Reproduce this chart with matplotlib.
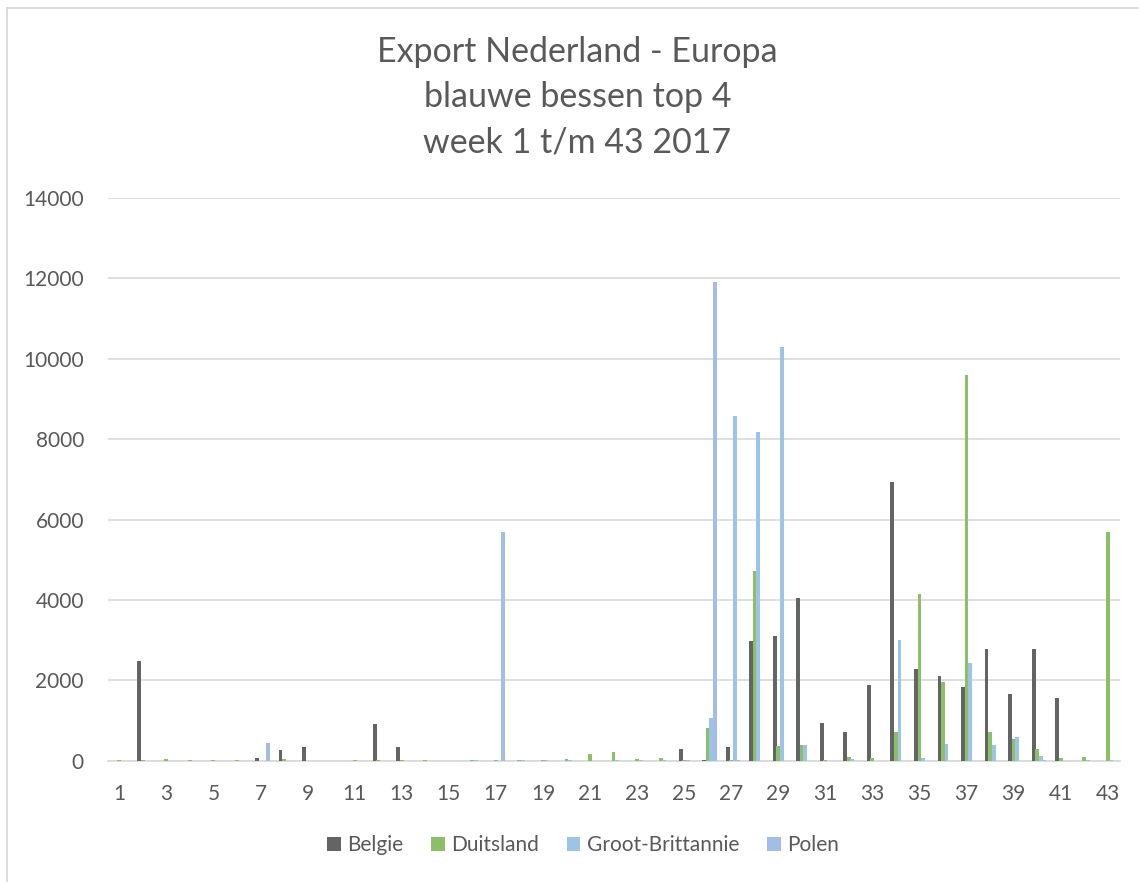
import matplotlib
matplotlib.use("Agg")
import matplotlib.pyplot as plt
from matplotlib.patches import Rectangle
import numpy as np

plt.rcParams["font.family"] = ["Lato", "DejaVu Sans"]

# Data: export per week (weken 1 t/m 43)
weken = list(range(1, 44))
belgie = [0, 2480, 0, 0, 0, 0, 70, 270, 330, 0,
          0, 910, 330, 0, 0, 0, 0, 0, 0, 0,
          0, 0, 0, 0, 290, 10, 340, 2975, 3110, 4060,
          940, 720, 1890, 6940, 2270, 2100, 1830, 2780, 1650, 2770,
          1560, 0, 0]
duitsland = [30, 10, 40, 30, 10, 30, 0, 40, 0, 0,
             15, 15, 15, 20, 0, 10, 30, 30, 10, 40,
             160, 210, 40, 60, 20, 820, 10, 4720, 370, 400,
             10, 100, 80, 720, 4160, 1950, 9600, 710, 530, 290,
             80, 100, 5690]
groot_brittannie = [0, 0, 0, 0, 0, 0, 0, 0, 0, 0,
                    0, 0, 0, 0, 0, 15, 0, 15, 15, 15,
                    0, 15, 15, 15, 15, 1060, 8580, 8180, 10300, 400,
                    0, 40, 0, 3000, 70, 420, 2440, 400, 600, 120,
                    0, 20, 20]
polen = [0, 0, 0, 0, 0, 0, 440, 0, 0, 0,
         0, 0, 0, 0, 0, 0, 5700, 0, 0, 0,
         0, 0, 0, 0, 0, 11900, 20, 0, 0, 0,
         0, 0, 0, 0, 0, 0, 0, 0, 0, 30,
         0, 0, 0]

series = [("Belgie", belgie, "#646464"),
          ("Duitsland", duitsland, "#8CC068"),
          ("Groot-Brittannie", groot_brittannie, "#9DC3E6"),
          ("Polen", polen, "#A4BDE6")]

tekst = "#595959"
grid = "#D9D9D9"

fig = plt.figure(figsize=(11.39, 8.82), dpi=100)
ax = fig.add_axes([0.0944, 0.1375, 0.8885, 0.638])

x = np.array(weken)
for i, (naam, waarden, kleur) in enumerate(series):
    ax.bar(x + (i - 1) * 0.15, waarden, width=0.165, color=kleur, label=naam, zorder=3)

ax.set_xlim(0.5, 43.5)
ax.set_ylim(0, 14000)
ax.set_yticks(range(0, 14001, 2000))
ax.set_xticks(weken[::2])
ax.tick_params(axis="both", length=0, labelsize=15, labelcolor=tekst)
ax.tick_params(axis="y", pad=17)
ax.tick_params(axis="x", pad=17)
ax.grid(axis="y", color=grid, linewidth=1.2, zorder=0)
for s in ["top", "right", "left"]:
    ax.spines[s].set_visible(False)
ax.spines["bottom"].set_color(grid)
ax.spines["bottom"].set_linewidth(1.2)

fig.text(0.507, 1 - 97 / 882, "Export Nederland - Europa\nblauwe bessen top 4\nweek 1 t/m 43 2017",
         ha="center", va="center", fontsize=24.5, color=tekst, linespacing=1.5)

leg = fig.legend(loc="center", bbox_to_anchor=(583 / 1139, 1 - 845 / 882), ncol=4,
                 frameon=False, fontsize=15, handlelength=0.65, handleheight=0.65,
                 handletextpad=0.3, columnspacing=1.35, labelcolor=tekst, borderaxespad=0)

# rand van het grafiekgebied
fig.patches.append(Rectangle((7 / 1139, -0.1), 1.2, 1.1 - 8 / 882, fill=False,
                             edgecolor=grid, linewidth=1.3, transform=fig.transFigure))

plt.savefig("out.png", dpi=100)
